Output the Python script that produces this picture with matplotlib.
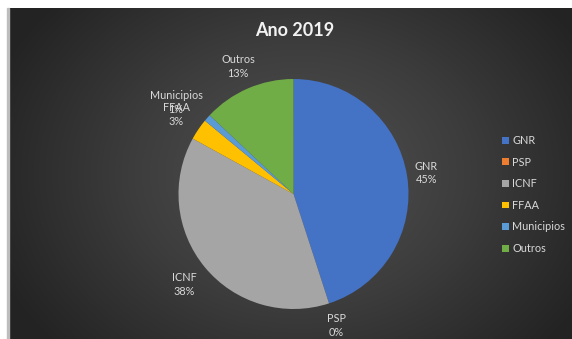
import numpy as np
import matplotlib
matplotlib.use("Agg")
import matplotlib.pyplot as plt
from matplotlib.colors import LinearSegmentedColormap

# ── Data ──────────────────────────────────────────────────────────────────
categories = ["GNR", "PSP", "ICNF", "FFAA", "Municipios", "Outros"]
shares = [45, 0, 38, 3, 1, 13]          # % of total
colors = ["#4472C4", "#ED7D31", "#A5A5A5", "#FFC000", "#5B9BD5", "#70AD47"]
label_dist = [1.17, 1.2, 1.23, 1.23, 1.2, 1.21]
label_nudge = [0, 0, 0, 0, -14, 0]      # px, horizontal (Excel moved it)
title = "Ano 2019"

W, H = 572, 339
plt.rcParams["font.family"] = ["Lato", "DejaVu Sans"]
text_col = "#d9d9d9"

fig = plt.figure(figsize=(W / 100, H / 100), dpi=100, facecolor="white")

# ── Dark radial background (chart area) ───────────────────────────────────
left_px, top_px = 9, 8
bg = fig.add_axes([left_px / W, 0, 1 - left_px / W, 1 - top_px / H])
yy, xx = np.mgrid[0:H - top_px, 0:W - left_px]
cx, cy = 290, 165
d = np.sqrt(((xx - cx) / 330.0) ** 2 + ((yy - cy) / 260.0) ** 2)
cmap_bg = LinearSegmentedColormap.from_list("bg", ["#525252", "#3d3d3d", "#232323"])
bg.imshow(np.clip(d, 0, 1), cmap=cmap_bg, vmin=0, vmax=1, aspect="auto",
          interpolation="bilinear")
bg.axis("off")
# thin gray strip on the left
fig.patches.append(plt.Rectangle((7 / W, 0), 2 / W, 1 - top_px / H,
                                 transform=fig.transFigure, color="#bdbdbd"))

# ── Pie ───────────────────────────────────────────────────────────────────
pcx, pcy, r = 293.5, 194, 115
ax = fig.add_axes([(pcx - r) / W, (H - pcy - r) / H, 2 * r / W, 2 * r / H])
ax.axis("off")

wedges, _ = ax.pie(shares, colors=colors, startangle=90, counterclock=False,
                   radius=1, wedgeprops=dict(linewidth=0))
ax.set_xlim(-1, 1)
ax.set_ylim(-1, 1)

total = float(sum(shares))
for w, name, val, dist, nx in zip(wedges, categories, shares, label_dist,
                                  label_nudge):
    ang = np.deg2rad((w.theta1 + w.theta2) / 2)
    x, y = dist * np.cos(ang) + nx / r, dist * np.sin(ang)
    ax.text(x, y, f"{name}\n{round(100 * val / total):d}%", ha="center",
            va="center", fontsize=7.8, color=text_col, linespacing=1.3,
            clip_on=False)

fig.text(295 / W, 1 - 31 / H, title, ha="center", va="center",
         fontsize=13, fontweight="bold", color="#f2f2f2")

leg = fig.legend(wedges, categories, loc="upper left",
                 bbox_to_anchor=(502 / W, 1 - 135 / H), frameon=False,
                 fontsize=7.8, labelcolor=text_col, handlelength=0.6,
                 handleheight=0.6, handletextpad=0.35, labelspacing=0.98,
                 borderpad=0, borderaxespad=0)

fig.savefig("out.png", dpi=100, facecolor="white")
